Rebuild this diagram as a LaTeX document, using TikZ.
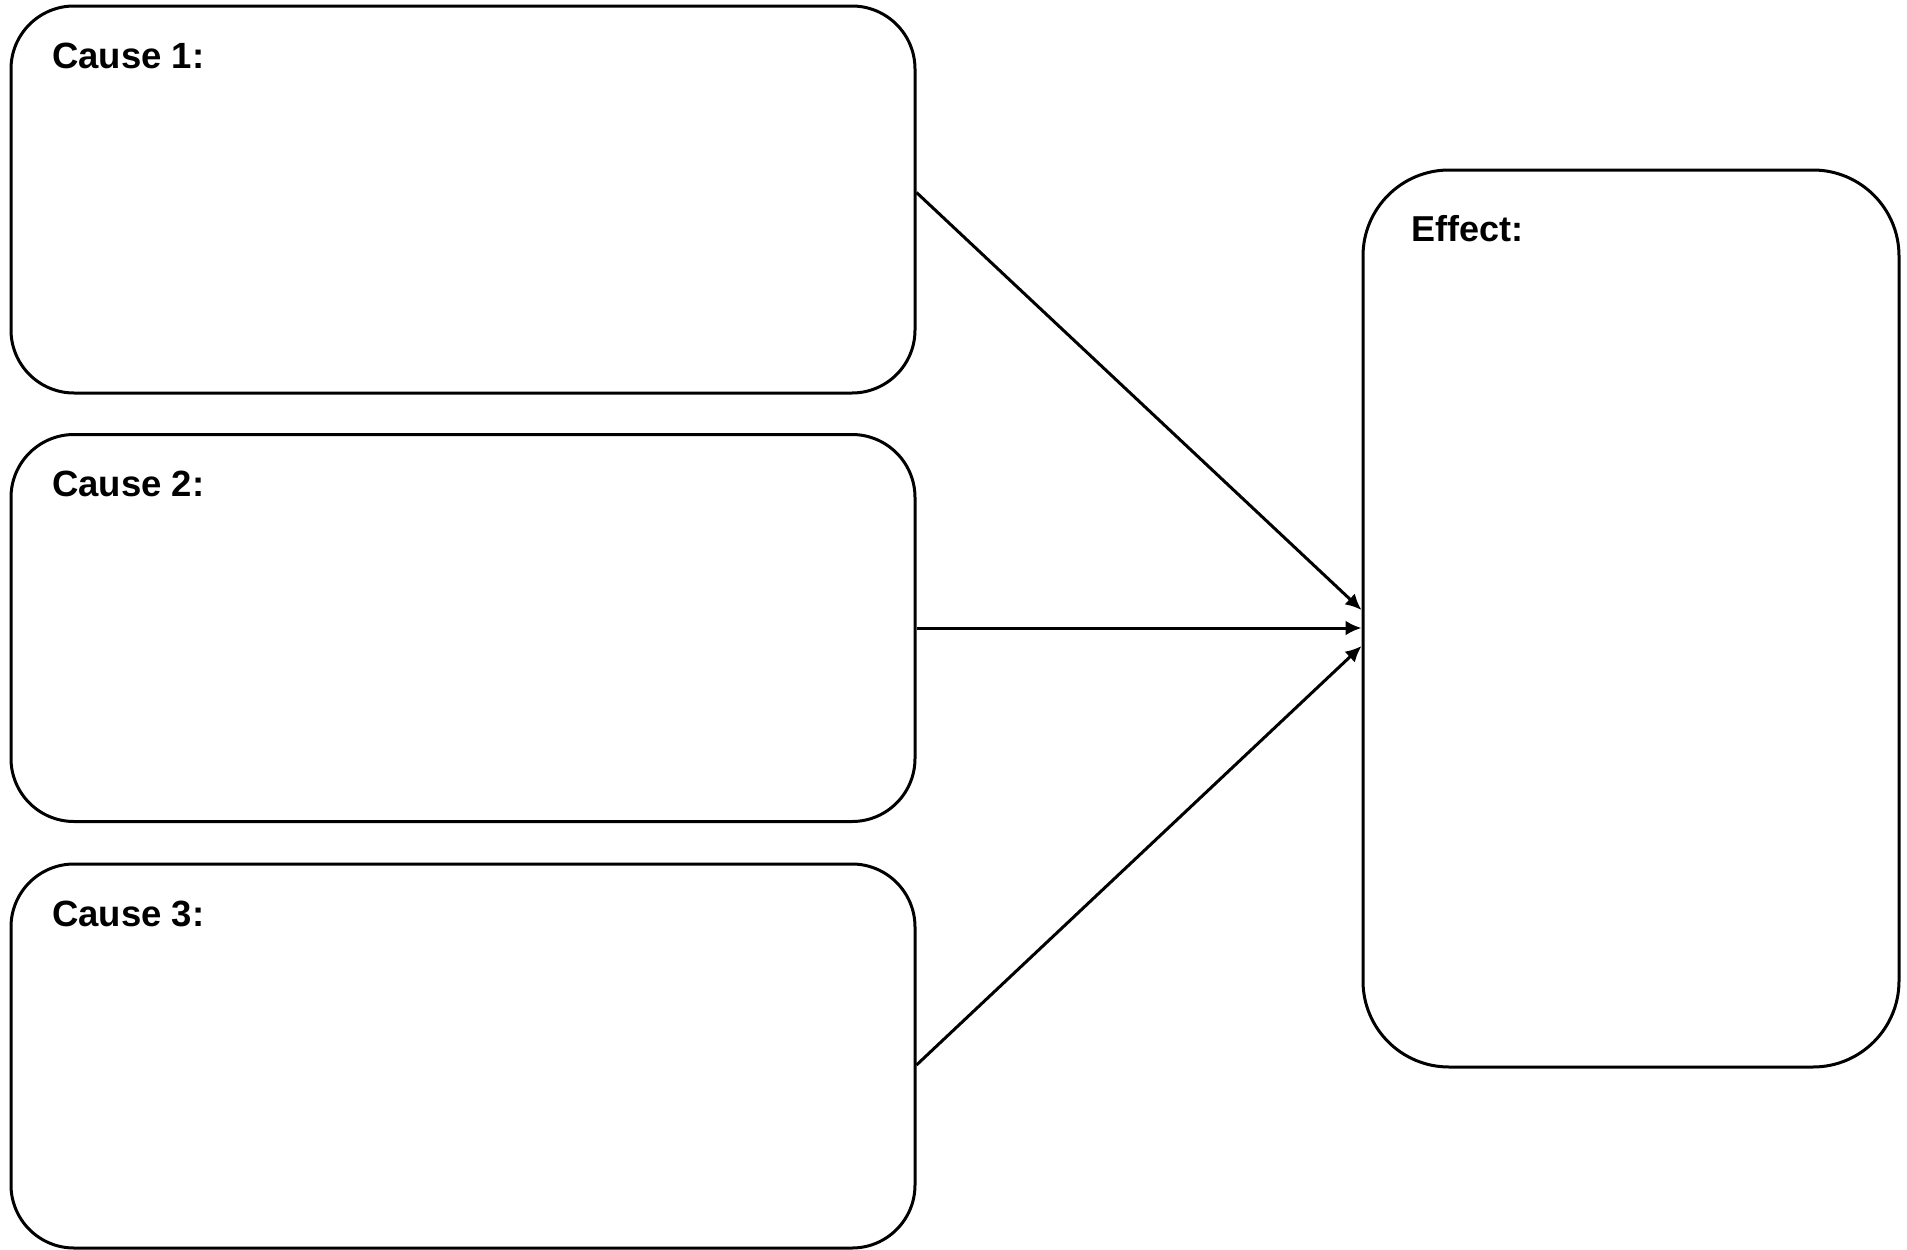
\documentclass[tikz,border=0pt]{standalone}
\usepackage{fontspec}
\setmainfont{Liberation Sans}
\usetikzlibrary{arrows.meta}
\begin{document}
\begin{tikzpicture}[x=1pt,y=-1pt,
  causebox/.style={draw=black,line width=3pt,rounded corners=63pt,minimum width=904pt,inner sep=0pt},
  effectbox/.style={draw=black,line width=3pt,rounded corners=86pt,minimum width=536pt,minimum height=897pt,inner sep=0pt},
  lbl/.style={anchor=base west,inner sep=0pt,font=\fontsize{36.5}{42}\selectfont\bfseries},
  conn/.style={line width=3pt,-{Latex[length=16pt,width=15pt]}}]
\useasboundingbox (0,0) rectangle (1907,1250);
\node[causebox,minimum height=387pt] (c1) at (463,199.5) {};
\node[causebox,minimum height=387pt] (c2) at (463,628) {};
\node[causebox,minimum height=384pt] (c3) at (463,1056) {};
\node[effectbox] (ef) at (1631,618.5) {};
\node[lbl] (t1) at (52,68) {Cause 1:};
\node[lbl] (t2) at (52,496) {Cause 2:};
\node[lbl] (t3) at (52,926) {Cause 3:};
\node[lbl,font=\fontsize{36}{42}\selectfont\bfseries] (te) at (1411,241) {Effect:};
\draw[conn] ([yshift=7pt]c1.east) -- ([yshift=8.5pt]ef.west);
\draw[conn] (c2.east) -- ([yshift=-9.5pt]ef.west);
\draw[conn] ([yshift=-9pt]c3.east) -- ([yshift=-27.5pt]ef.west);
\end{tikzpicture}
\end{document}
